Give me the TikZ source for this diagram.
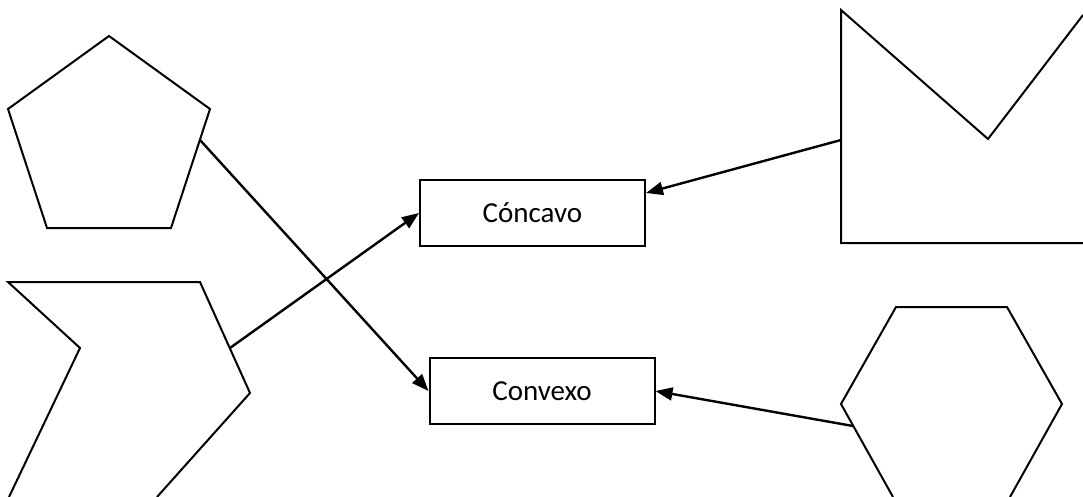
\documentclass[tikz,border=0pt]{standalone}
\usepackage{fontspec}
\setmainfont{Carlito}
\usetikzlibrary{arrows.meta}

\begin{document}
\begin{tikzpicture}[x=1pt,y=-1pt,line width=2pt,
    caja/.style={rectangle,draw,inner sep=0pt,minimum width=225pt,minimum height=66pt,font=\fontsize{29}{34}\selectfont},
    flecha/.style={-{Triangle[length=17pt,width=13pt]},line width=2.4pt}]
      \useasboundingbox (0,0) rectangle (1083,497);

      \draw (532.5,213) node [caja] (concavo) {Cóncavo};
      \draw (542,391) node [caja] (convexo) {Convexo};

      \draw (109,36) -- (210,109) -- (171,228) -- (47,228) -- (8,109) -- cycle;
      \draw (9,497) -- (80,348) -- (8,282) -- (200,282) -- (250,393) -- (157,497);
      \draw (1083,15) -- (988,139) -- (841,10) -- (841,243) -- (1083,243);
      \draw (893,497) -- (841,404) -- (896,307) -- (1007,307) -- (1062,404) -- (1010,497);

      \coordinate (penta) at (200,140);
      \coordinate (punta) at (230,348);
      \coordinate (eme) at (841,140);
      \coordinate (hexa) at (853,426);

      \draw [flecha] (punta) -- (concavo.west);
      \draw [flecha] (eme) -- (concavo.10);
      \draw [flecha] (penta) -- (convexo.west);
      \draw [flecha] (hexa) -- (convexo.east);
    \end{tikzpicture}
\end{document}
